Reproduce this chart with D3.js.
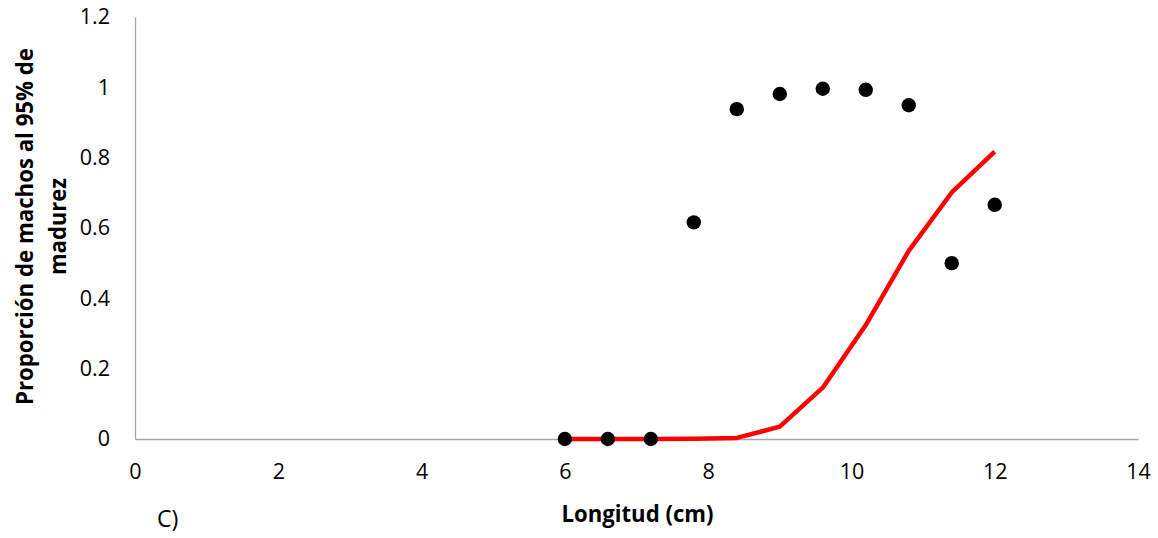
<!DOCTYPE html>
<html>
<head>
<meta charset="utf-8">
<script src="https://cdn.jsdelivr.net/npm/d3@7"></script>
<style>
  html, body { margin: 0; padding: 0; background: #ffffff; }
  svg { display: block; }
</style>
</head>
<body>
<svg id="chart" width="1158" height="538"></svg>
<script>
// Length classes (cm)
const lengths = [6, 6.6, 7.2, 7.8, 8.4, 9.0, 9.6, 10.2, 10.8, 11.4, 12.0];
// Observed proportion of mature males per length class
const observed = [0, 0, 0, 0.616, 0.938, 0.981, 0.996, 0.993, 0.949, 0.500, 0.666];
// Fitted logistic maturity curve
const fitted = [0, 0, 0, 0.001, 0.003, 0.035, 0.146, 0.324, 0.535, 0.701, 0.817];
// Axis ticks
const xTicks = [0, 2, 4, 6, 8, 10, 12, 14];
const yTicks = [0, 0.2, 0.4, 0.6, 0.8, 1, 1.2];

const svg = d3.select("#chart");
const plot = { left: 135, right: 1138, top: 17, bottom: 439 };

const x = d3.scaleLinear().domain([0, 14]).range([plot.left, plot.right]);
const y = d3.scaleLinear().domain([0, 1.2]).range([plot.bottom, plot.top]);

const axisColor = "#a6a6a6";
const tickFont = "'Open Sans', sans-serif";

// Y axis
const yAxis = svg.append("g")
  .attr("transform", `translate(${plot.left},0)`)
  .call(d3.axisLeft(y).tickValues(yTicks).tickSize(0).tickPadding(25)
    .tickFormat(d => String(d)));
yAxis.select(".domain").attr("stroke", axisColor).attr("stroke-width", 1.3);
yAxis.selectAll("text")
  .attr("font-family", tickFont).attr("font-size", 21.5).attr("fill", "#000");

// X axis
const xAxis = svg.append("g")
  .attr("transform", `translate(0,${plot.bottom})`)
  .call(d3.axisBottom(x).tickValues(xTicks).tickSize(0).tickPadding(25)
    .tickFormat(d => String(d)));
xAxis.select(".domain").attr("stroke", axisColor).attr("stroke-width", 1.3);
xAxis.selectAll("text")
  .attr("font-family", tickFont).attr("font-size", 21.5).attr("fill", "#000");

// Fitted curve
const line = d3.line()
  .x((d, i) => x(lengths[i]))
  .y(d => y(d));
svg.append("path")
  .datum(fitted)
  .attr("d", line)
  .attr("fill", "none")
  .attr("stroke", "#ff0000")
  .attr("stroke-width", 4.5)
  .attr("stroke-linejoin", "round");

// Observed points
svg.append("g")
  .selectAll("circle")
  .data(observed)
  .join("circle")
  .attr("cx", (d, i) => x(lengths[i]))
  .attr("cy", d => y(d))
  .attr("r", 7.2)
  .attr("fill", "#000");

// Axis titles
const titleFont = "'Open Sans', sans-serif";
svg.append("text")
  .attr("x", (plot.left + plot.right) / 2 + 1)
  .attr("y", 522)
  .attr("text-anchor", "middle")
  .attr("font-family", titleFont)
  .attr("font-weight", "bold")
  .attr("font-size", 23.5)
  .attr("textLength", 152)
  .attr("lengthAdjust", "spacingAndGlyphs")
  .text("Longitud (cm)");

const yt = svg.append("g").attr("transform", "translate(0,226.5) rotate(-90)");
yt.append("text")
  .attr("x", 0).attr("y", 33)
  .attr("text-anchor", "middle")
  .attr("font-family", titleFont)
  .attr("font-weight", "bold")
  .attr("font-size", 23.5)
  .attr("textLength", 357)
  .attr("lengthAdjust", "spacingAndGlyphs")
  .text("Proporción de machos al 95% de");
yt.append("text")
  .attr("x", 0).attr("y", 66)
  .attr("text-anchor", "middle")
  .attr("font-family", titleFont)
  .attr("font-weight", "bold")
  .attr("font-size", 23.5)
  .attr("textLength", 97)
  .attr("lengthAdjust", "spacingAndGlyphs")
  .text("madurez");

// Panel label
svg.append("text")
  .attr("x", 157)
  .attr("y", 527)
  .attr("font-family", tickFont)
  .attr("font-size", 23)
  .attr("fill", "#000")
  .text("C)");
</script>
</body>
</html>
